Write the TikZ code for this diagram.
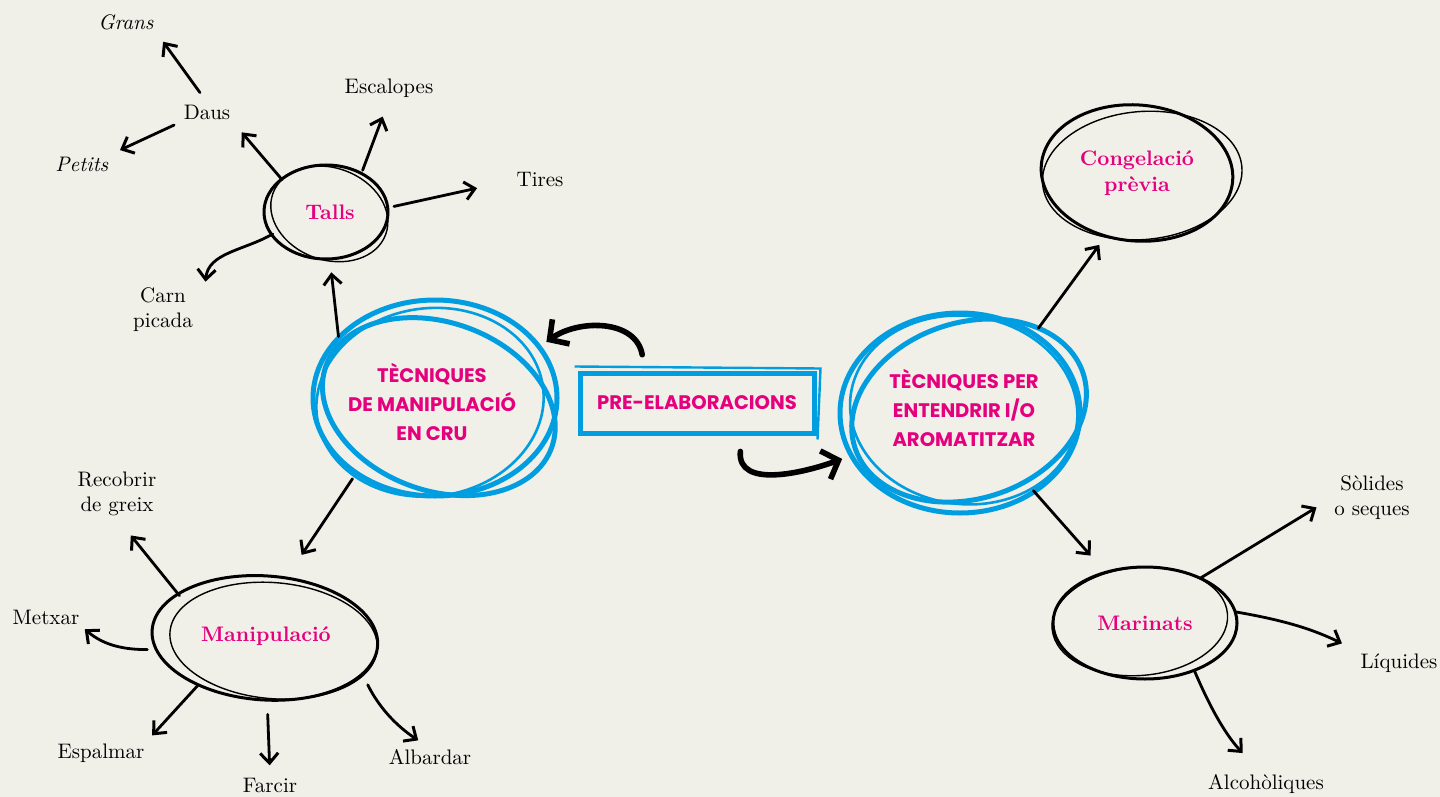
\documentclass[tikz,border=0pt]{standalone}
\usepackage{fontspec}
\usepackage{xcolor}
\usepackage{tikz}
\usetikzlibrary{shapes,shapes.geometric,arrows,arrows.meta,positioning,calc}
\newfontfamily\capsfont{Poppins}
\definecolor{paper}{RGB}{240,239,232}
\definecolor{hotpink}{RGB}{229,0,125}
\definecolor{skyblue}{RGB}{0,158,224}

\tikzset{
    lbl/.style={font=\fontsize{10.5}{12.5}\selectfont, align=center, inner sep=1pt},
    pinklbl/.style={font=\bfseries\fontsize{10.5}{13}\selectfont, text=hotpink, align=center},
    capslbl/.style={font=\capsfont\bfseries\fontsize{9.8}{14.5}\selectfont, text=hotpink, align=center},
    blob/.style={ellipse, inner sep=0pt},
    ink/.style={line width=1.5pt, black},
    thinink/.style={line width=0.7pt, black},
    blueink/.style={line width=2.5pt, skyblue},
    arr/.style={line width=1.4pt, line cap=round, -{Straight Barb[length=5pt,width=9pt,line width=1.5pt]}},
    bigarr/.style={line width=2.8pt, line cap=round, -{Straight Barb[length=7pt,width=15pt,line width=2.8pt]}}
}

\begin{document}
\begin{tikzpicture}[x=0.5pt, y=0.5pt]
    \fill[paper] (0,0) rectangle (1440,-797);
    \useasboundingbox (0,0) rectangle (1440,-797);

    % main concepts
    \node[blob, capslbl, minimum width=123pt, minimum height=100pt] (main) at (432,-402) {TÈCNIQUES\\DE MANIPULACIÓ\\EN CRU};
    \node[draw=skyblue, line width=2.5pt, capslbl, minimum width=117pt, minimum height=30pt] (box) at (697,-403) {PRE-ELABORACIONS};
    \node[blob, capslbl, minimum width=122pt, minimum height=100pt] (entendrir) at (964,-408) {TÈCNIQUES PER\\ENTENDRIR I/O\\AROMATITZAR};

    % sub concepts
    \node[blob, pinklbl, minimum width=64pt, minimum height=48pt] (talls) at (330,-212) {Talls};
    \node[blob, pinklbl, minimum width=113pt, minimum height=62pt] (manip) at (266,-636) {Manipulació};
    \node[blob, pinklbl, minimum width=99pt, minimum height=71pt] (congel) at (1137,-173) {Congelació\\prèvia};
    \node[blob, pinklbl, minimum width=92pt, minimum height=56pt] (marinats) at (1145,-623) {Marinats};

    % leaves
    \node[lbl] (daus) at (207,-112) {Daus};
    \node[lbl] (grans) at (126,-22) {\textit{Grans}};
    \node[lbl] (petits) at (82,-164) {\textit{Petits}};
    \node[lbl] (escalopes) at (389,-88) {Escalopes};
    \node[lbl] (tires) at (540,-180) {Tires};
    \node[lbl] (carn) at (163,-310) {Carn\\picada};
    \node[lbl] (recobrir) at (117,-494) {Recobrir\\de greix};
    \node[lbl] (metxar) at (46,-617) {Metxar};
    \node[lbl] (espalmar) at (101,-753) {Espalmar};
    \node[lbl] (farcir) at (270,-785) {Farcir};
    \node[lbl] (albardar) at (430,-757) {Albardar};
    \node[lbl] (solides) at (1372,-498) {Sòlides\\o seques};
    \node[lbl] (liquides) at (1399,-663) {Líquides};
    \node[lbl] (alcohol) at (1266,-784) {Alcohòliques};

    % sketchy rings
    \draw[blueink] (main.center) ++(3,4) ellipse [x radius=61pt, y radius=49pt];
    \draw[blueink, rotate around={-20:(main.center)}] (main.center) ++(8,-2) ellipse [x radius=60pt, y radius=42pt];
    \draw[blueink, line width=1.3pt, rotate around={8:(main.center)}] (main.center) ++(-2,0) ellipse [x radius=57pt, y radius=47pt];
    \draw[blueink] (entendrir.center) ++(-4,-5) ellipse [x radius=60pt, y radius=50pt];
    \draw[blueink, rotate around={18:(entendrir.center)}] (entendrir.center) ++(4,-4) ellipse [x radius=60pt, y radius=44pt];
    \draw[blueink, line width=1.3pt, rotate around={-8:(entendrir.center)}] (entendrir.center) ++(0,-2) ellipse [x radius=57pt, y radius=47pt];
    \draw[skyblue, line width=1.2pt] ([shift={(-3,4)}]box.north west) -- ([shift={(4,2)}]box.north east) -- ([shift={(1,-4)}]box.south east);

    \draw[ink] (talls.center) ++(-4,0) ellipse [x radius=31pt, y radius=23.5pt];
    \draw[thinink, rotate around={-20:(talls.center)}] (talls.center) ++(0,-2) ellipse [x radius=30pt, y radius=23pt];
    \draw[ink, rotate around={-4:(manip.center)}] (manip.center) ++(-1,-2) ellipse [x radius=56.5pt, y radius=31pt];
    \draw[thinink, rotate around={-5:(manip.center)}] (manip.center) ++(8,-4) ellipse [x radius=52pt, y radius=29pt];
    \draw[ink, rotate around={-5:(congel.center)}] (congel.center) ellipse [x radius=48pt, y radius=34pt];
    \draw[thinink, rotate around={5:(congel.center)}] (congel.center) ++(5,-3) ellipse [x radius=50pt, y radius=32pt];
    \draw[ink] (marinats.center) ellipse [x radius=46pt, y radius=28pt];
    \draw[thinink, rotate around={5:(marinats.center)}] (marinats.center) ++(-5,2) ellipse [x radius=44pt, y radius=27pt];

    % connectors
    \draw[arr, shorten >=6pt] (main.145) -- (talls.south);
    \draw[arr, shorten >=12pt] (main.224) -- (manip.70);
    \draw[arr, shorten >=7pt] (talls.146) -- (daus.south east);
    \draw[arr, shorten <=6pt, shorten >=6pt] (daus.north) -- (grans.south east);
    \draw[arr, shorten <=4pt, shorten >=5pt] (daus.south west) -- (petits.north east);
    \draw[arr, shorten >=9pt] (talls.52) -- (escalopes.south);
    \draw[arr, shorten >=19pt] (talls.5) -- (tires.west);
    \draw[arr, shorten >=2pt] (talls.201) to[out=210, in=85] ([xshift=5pt]carn.north east);
    \draw[arr, shorten >=11pt] (manip.155) -- (recobrir.south);
    \draw[arr, shorten <=4pt, shorten >=2pt] (manip.187) to[out=180, in=-40] (metxar.south east);
    \draw[arr, shorten >=4pt] (manip.216) -- (espalmar.north east);
    \draw[arr, shorten <=8pt, shorten >=5pt] (manip.271) -- (farcir.north);
    \draw[arr, shorten <=8pt, shorten >=6pt] (manip.340) to[bend right=15] (albardar.100);
    \draw[arr, shorten >=3pt] (entendrir.47) -- (congel.243);
    \draw[arr, shorten >=11pt] (entendrir.310) -- (marinats.128);
    \draw[arr, shorten >=9pt] (marinats.39) -- (solides.west);
    \draw[arr, shorten >=9pt] (marinats.7) to[bend left=8] (liquides.north west);
    \draw[arr, shorten >=13pt] (marinats.316) to[bend right=10] (alcohol.115);
    \draw[bigarr, shorten <=8pt, shorten >=6pt] (box.148) to[out=100, in=35, looseness=1.2] (main.27);
    \draw[bigarr, shorten <=8pt, shorten >=7pt] (box.324) to[out=-95, in=200, looseness=1.2] (entendrir.203);
\end{tikzpicture}
\end{document}
